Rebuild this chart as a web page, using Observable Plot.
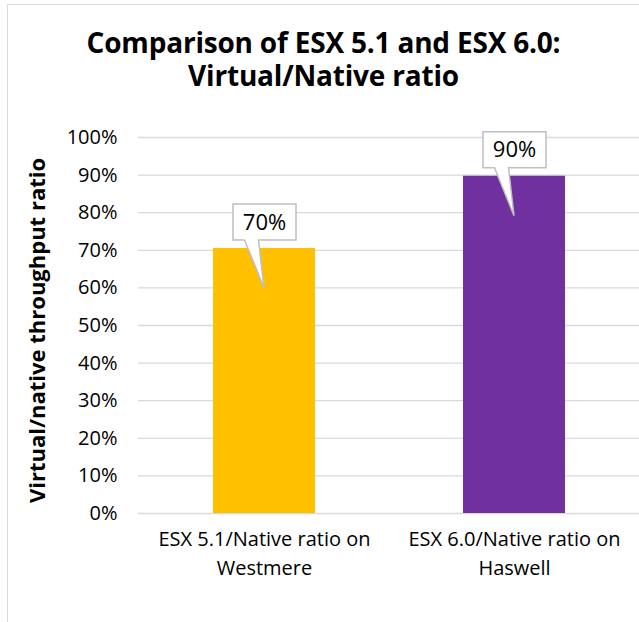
<!DOCTYPE html>
<html><head><meta charset="utf-8">
<script src="https://cdn.jsdelivr.net/npm/d3@7"></script>
<script src="https://cdn.jsdelivr.net/npm/@observablehq/plot@0.6"></script>
<style>
body{margin:0;background:#fff;overflow:hidden}
#wrap{position:relative;width:639px;height:622px;overflow:hidden;font-family:"Open Sans",sans-serif;color:#000}
#frame{position:absolute;left:7px;top:4px;width:700px;height:700px;border-left:1.5px solid #d9d9d9;border-top:1.5px solid #d9d9d9;pointer-events:none}
#title{height:105px;box-sizing:border-box;padding-top:26px;padding-left:8px;text-align:center;font-weight:700;font-size:28px;line-height:33px;letter-spacing:-0.2px}
#chart svg{display:block}
</style></head>
<body>
<div id="wrap">
  <div id="frame"></div>
  <div id="title">Comparison of ESX 5.1 and ESX 6.0:<br>Virtual/Native ratio</div>
  <div id="chart"></div>
</div>
<script>
const categories = ["ESX 5.1/Native ratio on\nWestmere", "ESX 6.0/Native ratio on\nHaswell"];
const ratios = [0.705, 0.897];
const valueLabels = ["70%", "90%"];
const barColors = ["#FFC000", "#7030A0"];
const yTicks = [0, 0.1, 0.2, 0.3, 0.4, 0.5, 0.6, 0.7, 0.8, 0.9, 1.0];
const yLabel = "Virtual/native throughput ratio";

const data = categories.map((c, i) => ({cat: c, v: ratios[i], label: valueLabels[i]}));

function callouts(index, scales) {
  const g = d3.create("svg:g");
  const bw = scales.x.bandwidth ? scales.x.bandwidth() : 0;
  for (const d of data) {
    const cx = scales.x(d.cat) + bw / 2;
    const top = scales.y(d.v);
    const p = `M${cx-31},${top-44}H${cx+32}V${top-8}H${cx-5.5}L${cx},${top+40}L${cx-19.5},${top-8}H${cx-31}Z`;
    g.append("path").attr("d", p).attr("fill", "#fff").attr("stroke", "#bfbfbf").attr("stroke-width", 1.5);
    g.append("text").attr("x", cx + 0.5).attr("y", top - 26).attr("dy", "0.35em")
      .attr("text-anchor", "middle").attr("font-size", 22).attr("fill", "#000").text(d.label);
  }
  return g.node();
}

const chart = Plot.plot({
  width: 639,
  height: 517,
  marginLeft: 138,
  marginRight: 0,
  marginTop: 32,
  marginBottom: 109,
  style: {fontFamily: "Open Sans", color: "#000", background: "transparent"},
  x: {domain: categories, padding: 0, label: null},
  y: {domain: [0, 1], label: null},
  color: {domain: categories, range: barColors},
  marks: [
    Plot.ruleY(yTicks, {stroke: "#d9d9d9", strokeWidth: 1.3}),
    Plot.barY(data, {x: "cat", y: "v", fill: "cat", insetLeft: 74, insetRight: 74}),
    Plot.axisY({ticks: yTicks, tickFormat: d3.format(".0%"), tickSize: 0, tickPadding: 21, fontSize: 20, label: null}),
    Plot.axisX({tickSize: 0, tickPadding: 12, fontSize: 20, lineHeight: 1.45, label: null}),
    Plot.text([yLabel], {frameAnchor: "left", textAnchor: "middle", dx: -101, dy: 5, rotate: -90, fontSize: 22, fontWeight: "bold", fill: "#000"}),
    callouts
  ]
});
document.getElementById("chart").appendChild(chart);
</script>
</body></html>
